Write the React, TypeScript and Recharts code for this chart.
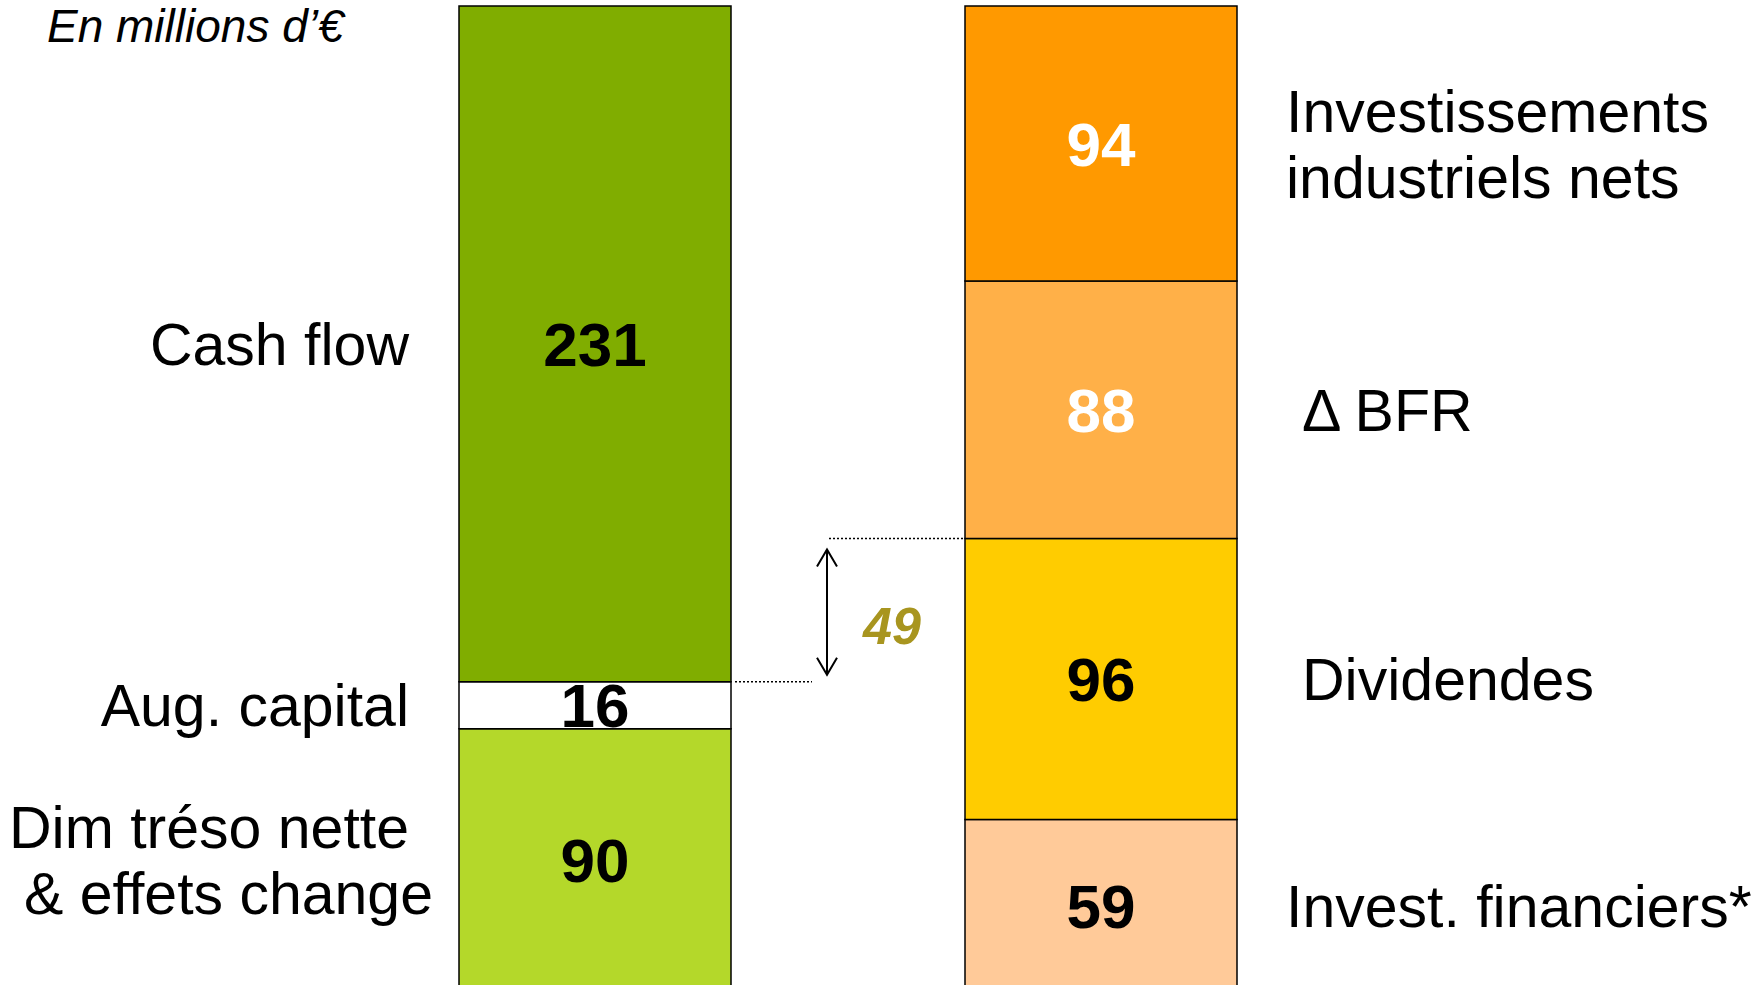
import { BarChart, Bar, XAxis, YAxis, LabelList, ReferenceArea } from 'recharts';

// En millions d'€
const categories = ['Ressources', 'Emplois'];

// stacked bottom -> top
const resourceNames = ['Dim tréso nette|& effets change', 'Aug. capital', 'Cash flow'];
const resourceValues = [90, 16, 231];
const resourceColors = ['#b4d82a', '#ffffff', '#80ad00'];

const useNames = ['Invest. financiers*', 'Dividendes', 'Δ BFR', 'Investissements|industriels nets'];
const useValues = [59, 96, 88, 94];
const useColors = ['#ffca99', '#ffcc00', '#ffb048', '#ff9900'];
const useValueColors = ['#000', '#000', '#fff', '#fff'];

// gap between the capital-covered part and the uses placed below it
const gapValue = useValues[0] + useValues[1] - resourceValues[0] - resourceValues[1];
const total = resourceValues.reduce((a, b) => a + b, 0);

const FONT = '"Liberation Sans", Arial, Helvetica, sans-serif';

const data = categories.map((cat, i) => {
  const row: Record<string, string | number> = { cat };
  resourceValues.forEach((v, k) => (row[`r${k}`] = i === 0 ? v : 0));
  useValues.forEach((v, k) => (row[`u${k}`] = i === 1 ? v : 0));
  return row;
});

const box = (p: any) => {
  const vb = p.viewBox || {};
  return {
    x: p.x ?? vb.x,
    y: p.y ?? vb.y,
    width: p.width ?? vb.width,
    height: p.height ?? vb.height,
  };
};

const valueLabel = (color: string) => (p: any) => {
  if (!p.value) return null;
  const { x, y, width, height } = box(p);
  return (
    <text
      x={x + width / 2}
      y={y + height / 2 + 22}
      textAnchor="middle"
      fontFamily={FONT}
      fontWeight="bold"
      fontSize={62}
      fill={color}
    >
      {p.value}
    </text>
  );
};

const sideLabel = (name: string, side: 'left' | 'right', indent: number, dx2 = 0) => (p: any) => {
  if (!p.value) return null;
  const { x, y, width, height } = box(p);
  const lines = name.split('|');
  const cy = y + height / 2;
  const tx = side === 'left' ? x - 50 : x + width + 49 + indent;
  return (
    <text
      textAnchor={side === 'left' ? 'end' : 'start'}
      fontFamily={FONT}
      fontSize={59}
      fill="#000"
    >
      {lines.map((l, i) => (
        <tspan key={i} x={tx + (i > 0 ? dx2 : 0)} y={cy - (lines.length - 1) * 33 + i * 66 + 21}>
          {l}
        </tspan>
      ))}
    </text>
  );
};

const GapMarker = (p: any) => {
  const top = p.y;
  const bottom = p.y + p.height;
  const ax = 827;
  return (
    <g>
      <line x1={735} x2={812} y1={bottom} y2={bottom} stroke="#000" strokeWidth={1.5} strokeDasharray="2 2" />
      <line x1={829} x2={965} y1={top} y2={top} stroke="#000" strokeWidth={1.5} strokeDasharray="2 2" />
      <line x1={ax} x2={ax} y1={top + 11} y2={bottom - 7} stroke="#000" strokeWidth={2} />
      <polyline points={`${ax - 10},${top + 28} ${ax},${top + 11} ${ax + 10},${top + 28}`} fill="none" stroke="#000" strokeWidth={2} />
      <polyline points={`${ax - 10},${bottom - 24} ${ax},${bottom - 7} ${ax + 10},${bottom - 24}`} fill="none" stroke="#000" strokeWidth={2} />
      <text
        x={863}
        y={top + p.height * 0.6 + 19}
        fontFamily={FONT}
        fontStyle="italic"
        fontWeight="bold"
        fontSize={52}
        fill="#a8951f"
      >
        {gapValue}
      </text>
    </g>
  );
};

export default function App() {
  return (
    <div style={{ position: 'absolute', left: 0, top: 0, width: 1761, height: 985, overflow: 'hidden', background: '#fff' }}>
      <BarChart
        width={1761}
        height={1000}
        data={data}
        margin={{ top: 6, right: 407, bottom: 8, left: 342 }}
        barSize={272}
      >
        <XAxis dataKey="cat" hide />
        <YAxis hide domain={[0, total]} />
        {resourceValues.map((_v, k) => (
          <Bar
            key={`r${k}`}
            dataKey={`r${k}`}
            stackId="s"
            fill={resourceColors[k]}
            stroke="#000"
            strokeWidth={1.5}
            isAnimationActive={false}
          >
            <LabelList dataKey={`r${k}`} content={valueLabel('#000')} />
            <LabelList dataKey={`r${k}`} content={sideLabel(resourceNames[k], 'left', 0, k === 0 ? 24 : 0)} />
          </Bar>
        ))}
        {useValues.map((_v, k) => (
          <Bar
            key={`u${k}`}
            dataKey={`u${k}`}
            stackId="s"
            fill={useColors[k]}
            stroke="#000"
            strokeWidth={1.5}
            isAnimationActive={false}
          >
            <LabelList dataKey={`u${k}`} content={valueLabel(useValueColors[k])} />
            <LabelList dataKey={`u${k}`} content={sideLabel(useNames[k], 'right', k === 1 || k === 2 ? 16 : 0)} />
          </Bar>
        ))}
        <ReferenceArea
          y1={resourceValues[0] + resourceValues[1]}
          y2={useValues[0] + useValues[1]}
          shape={GapMarker}
        />
      </BarChart>
      <svg width={420} height={70} style={{ position: 'absolute', left: 0, top: 0 }}>
        <text x={47} y={42} fontFamily={FONT} fontStyle="italic" fontSize={46} fill="#000">
          En millions d’€
        </text>
      </svg>
    </div>
  );
}
